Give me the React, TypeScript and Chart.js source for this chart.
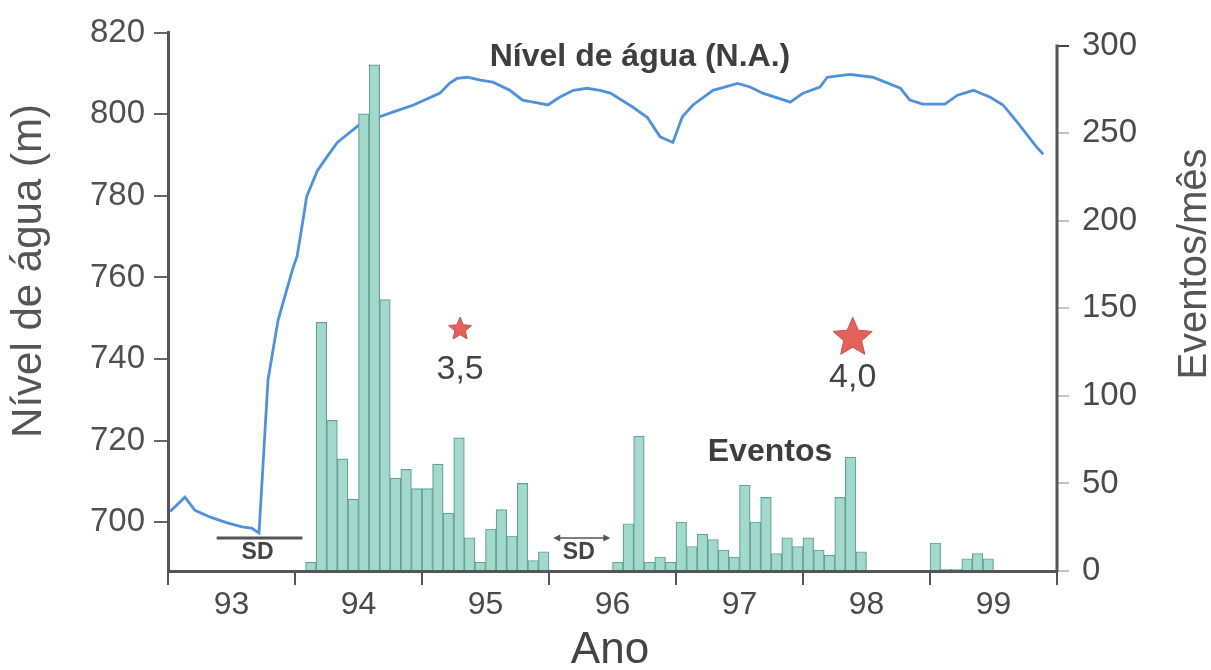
import React, { useEffect, useRef } from 'react';
import { Chart, registerables } from 'chart.js';

Chart.register(...registerables);

const FONT = 'Liberation Sans, Arial, Helvetica, sans-serif';

// X axis: months counted from Jan 1993 (0) to Dec 1999 (84)
const yearLabels = ['93', '94', '95', '96', '97', '98', '99'];
const yearTickMonths = [6, 18, 30, 42, 54, 66, 78];
const levelTicks = [700, 720, 740, 760, 780, 800, 820];
const eventTicks = [0, 50, 100, 150, 200, 250, 300];

// Eventos/mês (monthly bars), null = sem dados (SD)
const eventsPerMonth: (number | null)[] = [
  // 1993
  null, null, null, null, null, null, null, null, null, null, null, null,
  // 1994
  0, 5, 142, 86, 64, 41, 261, 289, 155, 53, 58, 47,
  // 1995
  47, 61, 33, 76, 19, 5, 24, 35, 20, 50, 6, 11,
  // 1996
  null, null, null, null, null, null, 5, 27, 77, 5, 8, 5,
  // 1997
  28, 14, 21, 18, 12, 8, 49, 28, 42, 10, 19, 14,
  // 1998
  19, 12, 9, 42, 65, 11, 0, 0, 0, 0, 0, 0,
  // 1999
  16, 1, 1, 7, 10, 7, 0, 0, 0, 0, 0, 0,
];

// Nível de água (m)
const levelMonths = [
  0.2, 1.6, 2.55, 4.0, 5.6, 7.0, 7.9, 8.6, 9.45, 10.4,
  11.8, 12.2, 12.9, 13.1, 14.1, 15.0, 16.0, 16.9, 18.1, 20.0,
  21.3, 23.2, 25.7, 26.6, 27.3, 28.3, 29.5, 30.7, 32.3, 33.5,
  34.9, 35.9, 37.0, 38.3, 39.6, 40.8, 41.8, 43.9, 45.3, 46.5,
  47.7, 48.6, 49.6, 51.5, 53.8, 55.0, 56.2, 58.8, 60.0, 61.6,
  62.3, 64.4, 66.6, 69.2, 70.1, 71.3, 73.4, 74.6, 76.1, 77.7,
  78.9, 80.2, 82.1, 82.7,
];
const levelValues = [
  702.6, 706.1, 702.9, 701.2, 699.8, 698.8, 698.5, 697.3, 734.9, 749.5,
  762.3, 765.2, 776.4, 779.8, 786.1, 789.5, 793.1, 795.0, 797.5, 799.4,
  800.6, 802.3, 805.2, 807.6, 808.8, 809.1, 808.4, 807.9, 805.9, 803.5,
  802.8, 802.3, 804.2, 805.9, 806.4, 805.9, 805.2, 801.8, 799.2, 794.5,
  793.1, 799.4, 802.3, 805.9, 807.6, 806.7, 805.2, 803.0, 805.2, 806.7,
  809.1, 809.8, 809.1, 806.4, 803.5, 802.5, 802.5, 804.7, 805.9, 804.2,
  802.3, 798.2, 791.9, 790.2,
];

// Earthquakes (stars) with magnitude labels
const quakeMonths = [27.6, 64.7];
const quakeLevels = [747.3, 745.2];
const quakeLabels = ['3,5', '4,0'];

// SD (sem dados) periods, in months
const sdStart = [4.6, 36.4];
const sdEnd = [12.7, 41.8];

function drawStar(ctx: CanvasRenderingContext2D, cx: number, cy: number, R: number) {
  const r = R * 0.46;
  ctx.beginPath();
  for (let i = 0; i < 10; i++) {
    const a = -Math.PI / 2 + (i * Math.PI) / 5;
    const rad = i % 2 === 0 ? R : r;
    ctx.lineTo(cx + rad * Math.cos(a), cy + rad * Math.sin(a));
  }
  ctx.closePath();
  ctx.fillStyle = '#e2625a';
  ctx.fill();
  ctx.lineWidth = 1;
  ctx.strokeStyle = '#c8504a';
  ctx.stroke();
}

function arrowHead(ctx: CanvasRenderingContext2D, x: number, y: number, dir: number) {
  ctx.beginPath();
  ctx.moveTo(x, y);
  ctx.lineTo(x - dir * 7, y - 3.5);
  ctx.lineTo(x - dir * 7, y + 3.5);
  ctx.closePath();
  ctx.fill();
}

const annotations = {
  id: 'annotations',
  afterDraw(chart: any) {
    const ctx: CanvasRenderingContext2D = chart.ctx;
    const xs = chart.scales.x;
    const yl = chart.scales.y;
    const yr = chart.scales.y1;
    const area = chart.chartArea;
    ctx.save();

    // right axis line (from 300 down to the baseline)
    ctx.strokeStyle = '#555';
    ctx.lineWidth = 3;
    ctx.beginPath();
    ctx.moveTo(area.right, yr.getPixelForValue(eventTicks[eventTicks.length - 1]) - 1);
    ctx.lineTo(area.right, area.bottom + 1);
    ctx.stroke();

    // stars
    quakeMonths.forEach((m, i) => {
      const cx = xs.getPixelForValue(m);
      const cy = yl.getPixelForValue(quakeLevels[i]);
      drawStar(ctx, cx, cy, i === 0 ? 12 : 20.5);
      ctx.fillStyle = '#444';
      ctx.font = `34px ${FONT}`;
      ctx.textAlign = 'center';
      ctx.textBaseline = 'middle';
      ctx.fillText(quakeLabels[i], cx, cy + 40);
    });

    // SD markers
    sdStart.forEach((s, i) => {
      const x0 = xs.getPixelForValue(s);
      const x1 = xs.getPixelForValue(sdEnd[i]);
      const y = area.bottom - 33;
      ctx.strokeStyle = '#555';
      ctx.fillStyle = '#555';
      if (i === 0) {
        ctx.lineWidth = 3;
        ctx.beginPath();
        ctx.moveTo(x0, y);
        ctx.lineTo(x1, y);
        ctx.stroke();
      } else {
        ctx.lineWidth = 1.5;
        ctx.beginPath();
        ctx.moveTo(x0 + 4, y);
        ctx.lineTo(x1 - 4, y);
        ctx.stroke();
        arrowHead(ctx, x0, y, -1);
        arrowHead(ctx, x1, y, 1);
      }
      ctx.fillStyle = '#444';
      ctx.font = `bold 23px ${FONT}`;
      ctx.textAlign = 'center';
      ctx.textBaseline = 'middle';
      ctx.fillText('SD', (x0 + x1) / 2 + (i === 0 ? -2 : -3), area.bottom - 18);
    });

    // series labels
    ctx.fillStyle = '#3e3e3e';
    ctx.textAlign = 'center';
    ctx.textBaseline = 'middle';
    ctx.font = `bold 32px ${FONT}`;
    ctx.fillText('Nível de água (N.A.)', 640, 57);
    ctx.font = `bold 32px ${FONT}`;
    ctx.fillText('Eventos', 770, 452);

    // axis titles
    ctx.fillStyle = '#555';
    ctx.font = `42px ${FONT}`;
    ctx.save();
    ctx.translate(29, 271);
    ctx.rotate(-Math.PI / 2);
    ctx.fillText('Nível de água (m)', 0, 0);
    ctx.restore();

    ctx.font = `40px ${FONT}`;
    ctx.save();
    ctx.translate(1195, 264);
    ctx.rotate(-Math.PI / 2);
    ctx.fillText('Eventos/mês', 0, 0);
    ctx.restore();

    ctx.fillStyle = '#444';
    ctx.font = `44px ${FONT}`;
    ctx.fillText('Ano', 610, 651);

    ctx.restore();
  },
};

export default function App() {
  const canvasRef = useRef<HTMLCanvasElement | null>(null);

  useEffect(() => {
    document.body.style.margin = '0';
    const canvas = canvasRef.current;
    if (!canvas) return;

    const barData = eventsPerMonth.map((v, i) => ({ x: i + 0.5, y: v }));
    const lineData = levelMonths.map((m, i) => ({ x: m, y: levelValues[i] }));

    const chart = new Chart(canvas, {
      type: 'bar',
      data: {
        datasets: [
          {
            type: 'bar',
            label: 'Eventos',
            data: barData as any,
            yAxisID: 'y1',
            xAxisID: 'x',
            backgroundColor: '#a3d8cd',
            borderColor: '#62a396',
            borderWidth: 1.2,
            categoryPercentage: 1,
            barPercentage: 1,
            order: 0,
          },
          {
            type: 'line',
            label: 'Nível de água (N.A.)',
            data: lineData as any,
            yAxisID: 'y',
            xAxisID: 'x',
            borderColor: '#4e92dd',
            borderWidth: 2.8,
            pointRadius: 0,
            tension: 0,
            fill: false,
            order: 1,
          },
        ],
      },
      options: {
        animation: false,
        responsive: false,
        devicePixelRatio: 1,
        layout: { padding: { top: 27, left: 0, right: 0, bottom: 0 } },
        plugins: { legend: { display: false }, tooltip: { enabled: false } },
        scales: {
          x: {
            type: 'linear',
            min: 0,
            max: 84,
            offset: false,
            afterBuildTicks: (s: any) => {
              s.ticks = yearTickMonths.map((v) => ({ value: v }));
            },
            afterFit: (s: any) => {
              s.height = 99;
            },
            ticks: {
              autoSkip: false,
              maxRotation: 0,
              padding: 1,
              color: '#4a4a4a',
              font: { size: 32, family: FONT },
              callback: (v: any) => {
                const idx = yearTickMonths.indexOf(Number(v));
                return idx >= 0 ? yearLabels[idx] : '';
              },
            },
            grid: {
              offset: true,
              drawOnChartArea: false,
              drawTicks: true,
              tickLength: 14,
              color: '#555',
              lineWidth: 2,
            },
            border: { display: true, color: '#555', width: 3 },
          },
          y: {
            type: 'linear',
            position: 'left',
            min: 688,
            max: 820,
            afterBuildTicks: (s: any) => {
              s.ticks = levelTicks.map((v) => ({ value: v }));
            },
            afterFit: (s: any) => {
              s.width = 168;
            },
            ticks: {
              padding: 9,
              color: '#505050',
              font: { size: 33, family: FONT },
            },
            grid: {
              drawOnChartArea: false,
              tickLength: 14,
              color: '#666',
              lineWidth: 2,
            },
            border: { display: true, color: '#555', width: 3 },
          },
          y1: {
            type: 'linear',
            position: 'right',
            min: 0,
            max: 307.3,
            afterBuildTicks: (s: any) => {
              s.ticks = eventTicks.map((v) => ({ value: v }));
            },
            afterFit: (s: any) => {
              s.width = 154;
            },
            ticks: {
              padding: 13,
              color: '#4a4a4a',
              font: { size: 33, family: FONT },
            },
            grid: {
              drawOnChartArea: false,
              tickLength: 12,
              color: (c: any) => (c.tick && c.tick.value === 300 ? '#444' : '#c4c4c4'),
              lineWidth: 2,
            },
            border: { display: false },
          },
        },
      },
      plugins: [annotations],
    });

    return () => chart.destroy();
  }, []);

  return (
    <div style={{ position: 'absolute', left: 0, top: 0, width: 1211, height: 670, background: '#fff' }}>
      <canvas ref={canvasRef} width={1211} height={670} />
    </div>
  );
}
